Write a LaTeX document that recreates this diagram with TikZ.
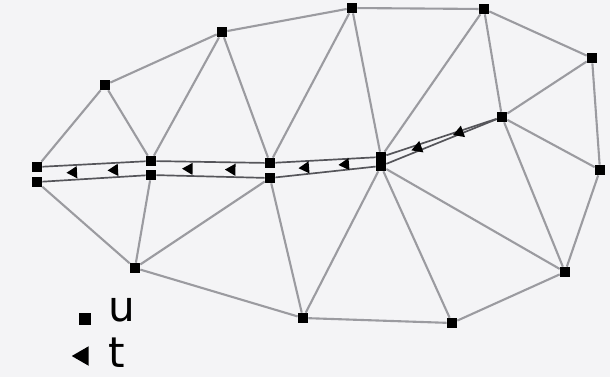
\documentclass[tikz,border=0pt]{standalone}
\usepackage{fontspec}
\setmainfont{DejaVu Sans}
\usetikzlibrary{shapes.geometric,calc}
\definecolor{meshgray}{RGB}{155,155,160}
\definecolor{trailgray}{RGB}{85,85,90}
\definecolor{bggray}{RGB}{244,244,246}

\begin{document}
\begin{tikzpicture}[x=0.025cm, y=-0.025cm,
    unode/.style={rectangle, fill=black, inner sep=0pt, minimum size=7.2pt},
    tnode/.style={regular polygon, regular polygon sides=3, shape border rotate=90,
                  fill=black, inner sep=0pt, minimum size=10pt, sloped},
    mesh/.style={draw=meshgray, line width=1.5pt},
    trail/.style={draw=trailgray, line width=1.2pt}]
    % Background
    \fill[bggray] (0,0) rectangle (610,377);

    % Mesh vertices
    \foreach \n/\x/\y in {a/105/85, b/222/32, c/352/8, d/484/9, e/592/58,
                          f/600/170, g/565/272, h/452/323, i/303/318, j/135/268,
                          o/502/117,
                          k1/37/167, k2/37/182, l1/151/161, l2/151/175,
                          m1/270/163, m2/270/178, n1/381/157, n2/381/166} {
        \node[unode] (\n) at (\x,\y) {};
    }

    % Mesh edges
    \foreach \s/\e in {a/k1, a/b, a/l1, b/c, b/l1, b/m1, c/d, c/m1, c/n1,
                       d/e, d/n1, d/o, e/o, e/f, f/o, f/g, g/o, g/n2, g/h,
                       h/n2, h/i, i/n2, i/m2, i/j, j/m2, j/l2, j/k2} {
        \draw[mesh] (\s) -- (\e);
    }

    % Double trail
    \foreach \s/\e in {k1/l1, l1/m1, m1/n1, k2/l2, l2/m2, m2/n2, n1/o, n2/o} {
        \draw[trail] (\s) -- (\e);
    }

    % Triangles between the two trails
    \coordinate (kc) at ($(k1)!.5!(k2)$);
    \coordinate (lc) at ($(l1)!.5!(l2)$);
    \coordinate (mc) at ($(m1)!.5!(m2)$);
    \coordinate (nc) at ($(n1)!.5!(n2)$);
    \foreach \s/\e in {kc/lc, lc/mc, mc/nc, nc/o} {
        \path (\s) -- (\e) node[tnode, pos=.32] {} node[tnode, pos=.68] {};
    }

    % Legend
    \node[unode, minimum size=8.5pt] (ukey) at (85,319) {};
    \node[tnode, minimum size=16pt] (tkey) at (83,356) {};
    \node[anchor=base west, inner sep=0pt, font=\fontsize{30}{30}\selectfont] (ulabel) at (108,321) {u};
    \node[anchor=base west, inner sep=0pt, font=\fontsize{30}{30}\selectfont] (tlabel) at (108,367) {t};
\end{tikzpicture}
\end{document}
